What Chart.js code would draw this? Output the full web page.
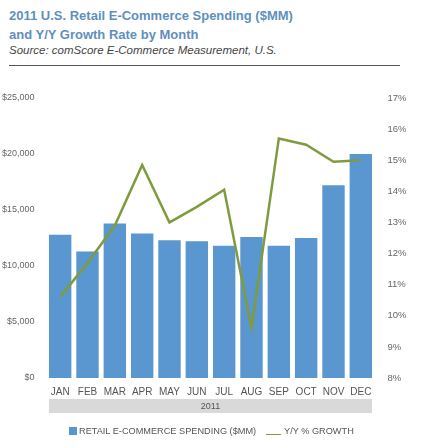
<!DOCTYPE html>
<html>
<head>
<meta charset="utf-8">
<script src="https://cdn.jsdelivr.net/npm/chart.js@4.4.1/dist/chart.umd.min.js"></script>
<style>
body{margin:0;background:#fff;width:434px;height:448px;overflow:hidden;position:relative;font-family:"Liberation Sans",Arial,sans-serif;}
.titulo{position:absolute;left:9px;top:6px;color:#5f8fbd;font-weight:bold;font-size:13px;line-height:19px;}
.fuente{position:absolute;left:9px;top:44px;color:#444;font-style:italic;font-size:11.5px;}
.linea{position:absolute;left:9px;top:65px;width:391px;height:1px;background:#555;}
#cont{position:absolute;left:0;top:70px;width:434px;height:378px;}
.leyenda{position:absolute;top:426px;font-size:9.2px;color:#555;white-space:nowrap;}
.cuadro{position:absolute;left:69px;top:427px;width:8px;height:8px;background:#5a96cf;}
.raya{position:absolute;left:266px;top:434px;width:15px;height:1px;background:#7f9b3f;}
</style>
</head>
<body>
<div class="titulo">2011 U.S. Retail E-Commerce Spending ($MM)<br>and Y/Y Growth Rate by Month</div>
<div class="fuente">Source: comScore E-Commerce Measurement, U.S.</div>
<div class="linea"></div>
<div id="cont"><canvas id="grafica"></canvas></div>
<div class="cuadro"></div>
<div class="leyenda" style="left:79px">RETAIL E-COMMERCE SPENDING ($MM)</div>
<div class="raya"></div>
<div class="leyenda" style="left:284px">Y/Y % GROWTH</div>
<script>
var meses=["JAN","FEB","MAR","APR","MAY","JUN","JUL","AUG","SEP","OCT","NOV","DEC"];
var gasto=[12800,11300,13800,12900,12300,12200,11800,12600,11800,12500,17200,20000];
var crecimiento=[10.6,11.7,12.9,14.85,13.0,13.5,14.05,9.6,15.7,15.5,14.95,15.0];
var anio="2011";

var grisTexto="#555";

// banda gris con el año debajo de los meses
var bandaAnio={
	id:"bandaAnio",
	afterDraw:function(chart){
		var ctx=chart.ctx;
		var barras=chart.getDatasetMeta(1).data;
		var izq=barras[0].x-barras[0].width/2;
		var der=barras[barras.length-1].x+barras[barras.length-1].width/2;
		var y=chart.chartArea.bottom+21;
		ctx.save();
		ctx.fillStyle="#d9d9d9";
		ctx.fillRect(izq,y,der-izq,14);
		ctx.fillStyle=grisTexto;
		ctx.font="9px 'Liberation Sans', Arial";
		ctx.textAlign="center";
		ctx.textBaseline="middle";
		ctx.fillText(anio,(izq+der)/2,y+7.5);
		ctx.restore();
	}
};

new Chart(document.getElementById("grafica"),{
	type:"bar",
	data:{
		labels:meses,
		datasets:[{
			type:"line",
			label:"Y/Y % GROWTH",
			data:crecimiento,
			yAxisID:"y1",
			borderColor:"#7f9b3f",
			borderWidth:2.5,
			pointRadius:0,
			tension:0,
			order:0
		},{
			type:"bar",
			label:"RETAIL E-COMMERCE SPENDING ($MM)",
			data:gasto,
			yAxisID:"y",
			backgroundColor:"#5a96cf",
			barPercentage:0.82,
			categoryPercentage:1,
			order:1
		}]
	},
	options:{
		responsive:true,
		maintainAspectRatio:false,
		animation:false,
		layout:{padding:{top:28}},
		plugins:{legend:{display:false},tooltip:{enabled:false}},
		scales:{
			x:{
				grid:{display:false},
				border:{display:false},
				ticks:{color:grisTexto,font:{size:10,family:"'Liberation Sans', Arial"},padding:0,maxRotation:0},
				afterFit:function(s){s.height=70;}
			},
			y:{
				position:"left",
				min:0,max:25000,
				grid:{display:false},
				border:{display:false},
				ticks:{stepSize:5000,color:"#666",font:{size:9,family:"'Liberation Sans', Arial"},padding:4,
					callback:function(v){return "$"+v.toLocaleString("en-US");}},
				afterFit:function(s){s.width=46.5;}
			},
			y1:{
				position:"right",
				min:8,max:17,
				grid:{display:false},
				border:{display:false},
				ticks:{stepSize:1,color:"#666",font:{size:9.5,family:"'Liberation Sans', Arial"},padding:5,
					callback:function(v){return v+"%";}},
				afterFit:function(s){s.width=59.5;}
			}
		}
	},
	plugins:[bandaAnio]
});
</script>
</body>
</html>
